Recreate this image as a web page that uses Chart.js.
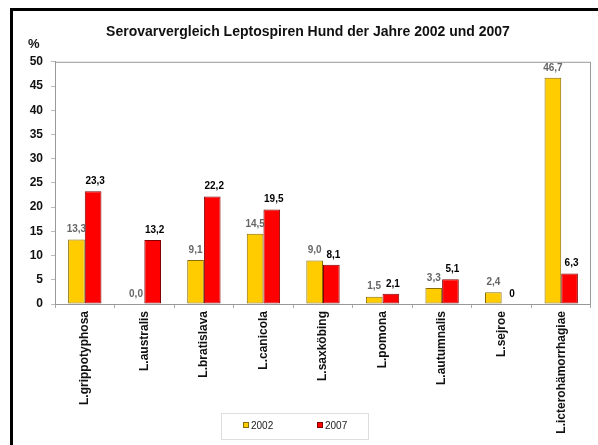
<!DOCTYPE html>
<html>
<head>
<meta charset="utf-8">
<script src="https://cdn.jsdelivr.net/npm/chart.js@4"></script>
<style>
    html, body { margin: 0; padding: 0; background: #fff; }
    #wrap { position: relative; width: 598px; height: 445px; overflow: hidden; }
    #frame { position: absolute; left: 10px; top: 8px; width: 600px; height: 450px;
             border-left: 3px solid #000; border-top: 3px solid #000; }
    #chart { position: absolute; left: 0; top: 0; }
    #legend { position: absolute; left: 221px; top: 413px; width: 146px; height: 25px;
              border: 1px solid #ddd; font: 10px "Liberation Sans", Arial, sans-serif; color: #222; }
    #legend span.item { position: absolute; top: 7px; line-height: 10px; }
    #legend i { display: inline-block; width: 4px; height: 4px; margin-right: 2px;
                vertical-align: 1px; border: 1px solid #555; }
</style>
</head>
<body>
<div id="wrap">
    <div id="frame"></div>
    <canvas id="chart" width="591" height="445"></canvas>
    <div id="legend">
        <span class="item" style="left:21px"><i style="background:#ffcc00;border-color:#8a6d00"></i>2002</span>
        <span class="item" style="left:95px"><i style="background:#ff0000;border-color:#800000"></i>2007</span>
    </div>
</div>
<script>
const categories = ['L.grippotyphosa', 'L.australis', 'L.bratislava', 'L.canicola', 'L.saxköbing',
    'L.pomona', 'L.autumnalis', 'L.sejroe', 'L.icterohämorrhagiae'];
const values2002 = [13.3, 0.0, 9.1, 14.5, 9.0, 1.5, 3.3, 2.4, 46.7];
const values2007 = [23.3, 13.2, 22.2, 19.5, 8.1, 2.1, 5.1, 0, 6.3];
const labels2002 = ['13,3', '0,0', '9,1', '14,5', '9,0', '1,5', '3,3', '2,4', '46,7'];
const labels2007 = ['23,3', '13,2', '22,2', '19,5', '8,1', '2,1', '5,1', '0', '6,3'];

const font = '"Liberation Sans", Arial, sans-serif';

// value labels above bars + grey frame round the plot area
const barLabels = {
    id: 'barLabels',
    afterDatasetsDraw(chart) {
        const ctx = chart.ctx;
        const a = chart.chartArea;
        ctx.save();
        ctx.strokeStyle = '#999';
        ctx.lineWidth = 1;
        ctx.strokeRect(a.left + 0.5, a.top + 0.5, a.right - a.left - 1, a.bottom - a.top);
        ctx.font = 'bold 10px ' + font;
        ctx.textAlign = 'center';
        ctx.textBaseline = 'bottom';
        chart.data.datasets.forEach((ds, di) => {
            const meta = chart.getDatasetMeta(di);
            meta.data.forEach((bar, i) => {
                ctx.fillStyle = di === 0 ? '#666' : '#000';
                const dx = di === 0 ? 0 : 2;
                ctx.fillText(ds.valueLabels[i], bar.x + dx, bar.y - 5);
            });
        });
        ctx.restore();
    },
    afterDraw(chart) {
        const ctx = chart.ctx;
        ctx.save();
        ctx.font = 'bold 13px ' + font;
        ctx.fillStyle = '#111';
        ctx.textBaseline = 'middle';
        ctx.fillText('%', 28, 44);
        ctx.restore();
    }
};

new Chart(document.getElementById('chart'), {
    type: 'bar',
    data: {
        labels: categories,
        datasets: [
            {
                label: '2002',
                data: values2002,
                valueLabels: labels2002,
                backgroundColor: '#ffcc00',
                borderColor: '#8a6d00',
                borderWidth: 1,
                borderSkipped: false
            },
            {
                label: '2007',
                data: values2007,
                valueLabels: labels2007,
                backgroundColor: '#ff0000',
                borderColor: '#800000',
                borderWidth: 1,
                borderSkipped: false
            }
        ]
    },
    options: {
        responsive: false,
        animation: false,
        categoryPercentage: 0.56,
        barPercentage: 1,
        layout: { padding: { left: 25, right: 0, top: 0, bottom: 0 } },
        plugins: {
            legend: { display: false },
            tooltip: { enabled: false },
            title: {
                display: true,
                text: 'Serovarvergleich Leptospiren Hund der Jahre 2002 und 2007',
                font: { family: font, size: 14, weight: 'bold' },
                color: '#111',
                padding: { top: 24, bottom: 21 }
            }
        },
        scales: {
            x: {
                afterFit(scale) { scale.height = 141; },
                grid: { drawOnChartArea: false, color: '#aaa', tickLength: 4, offset: true },
                border: { color: '#999' },
                ticks: {
                    minRotation: 90,
                    maxRotation: 90,
                    padding: 3,
                    color: '#111',
                    font: { family: font, size: 12, weight: 'bold' }
                }
            },
            y: {
                min: 0,
                max: 50,
                afterFit(scale) { scale.width = 30; },
                grid: { drawOnChartArea: false, color: '#bbb', tickLength: 4 },
                border: { color: '#999' },
                ticks: {
                    stepSize: 5,
                    padding: 8,
                    color: '#111',
                    font: { family: font, size: 12, weight: 'bold' }
                }
            }
        }
    },
    plugins: [barLabels]
});
</script>
</body>
</html>
